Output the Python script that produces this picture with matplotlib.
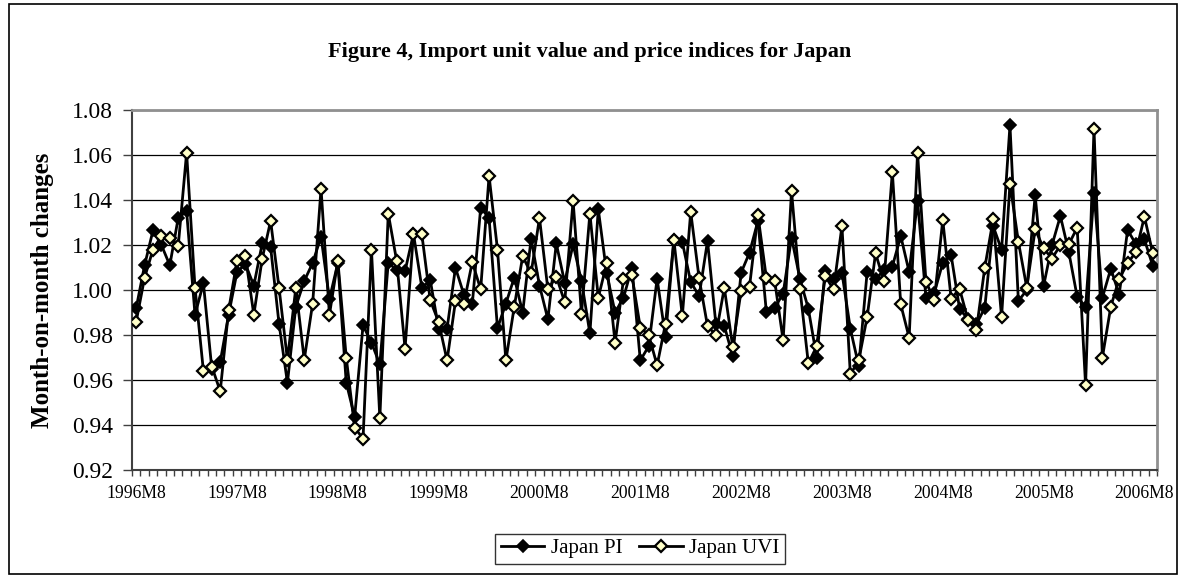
import numpy as np
import matplotlib
matplotlib.use("Agg")
import matplotlib.pyplot as plt
from matplotlib.patches import Rectangle
from matplotlib.ticker import FixedLocator, FormatStrFormatter

plt.rcParams['font.family'] = ['Liberation Serif', 'DejaVu Serif']

# Month-on-month changes, monthly from 1996M8
japan_pi = [
	0.992, 1.011, 1.0265, 1.020, 1.011, 1.032, 1.035, 0.989, 1.003, 0.965,
	0.968, 0.989, 1.008, 1.0115, 1.002, 1.0207, 1.019, 0.985, 0.9588, 0.9926,
	1.004, 1.012, 1.0237, 0.996, 1.012, 0.9588, 0.9436, 0.9843, 0.9766, 0.967,
	1.012, 1.009, 1.0084, 1.025, 1.001, 1.0044, 0.9828, 0.9828, 1.0099, 0.998,
	0.9936, 1.0366, 1.032, 0.983, 0.994, 1.0055, 0.990, 1.0228, 1.002, 0.987,
	1.0207, 1.0033, 1.0203, 1.004, 0.9807, 1.0359, 1.0074, 0.990, 0.9966, 1.0099,
	0.9687, 0.975, 1.005, 0.979, 1.0222, 1.0213, 1.0036, 0.9973, 1.0218, 0.9847,
	0.984, 0.9707, 1.0077, 1.0166, 1.0307, 0.9904, 0.9921, 0.9984, 1.0233, 1.005,
	0.9917, 0.970, 1.0084, 1.0047, 1.0077, 0.9828, 0.9662, 1.008, 1.0047, 1.0089,
	1.0104, 1.024, 1.008, 1.0396, 0.9966, 0.9988, 1.0121, 1.0154, 0.9917, 0.987,
	0.9847, 0.9921, 1.0284, 1.0178, 1.0732, 0.9951, 1.000, 1.0421, 1.0018, 1.0199,
	1.0329, 1.0169, 0.997, 0.9924, 1.0433, 0.9966, 1.0095, 0.998, 1.0267, 1.0203,
	1.0225, 1.0107,
]
japan_uvi = [
	0.986, 1.0055, 1.018, 1.024, 1.023, 1.0195, 1.061, 1.001, 0.964, 0.966,
	0.955, 0.991, 1.013, 1.015, 0.989, 1.014, 1.0307, 1.001, 0.969, 1.001,
	0.969, 0.994, 1.045, 0.989, 1.013, 0.970, 0.9388, 0.934, 1.018, 0.943,
	1.034, 1.013, 0.974, 1.025, 1.0247, 0.9954, 0.9858, 0.9687, 0.995, 0.994,
	1.0124, 1.0003, 1.0507, 1.018, 0.9687, 0.9926, 1.015, 1.0074, 1.032, 1.0003,
	1.006, 0.9947, 1.0396, 0.9895, 1.034, 0.9966, 1.0119, 0.9766, 1.0047, 1.0065,
	0.9833, 0.980, 0.9665, 0.985, 1.0222, 0.9884, 1.0347, 1.0052, 0.984, 0.980,
	1.001, 0.9747, 0.9996, 1.0015, 1.0333, 1.0055, 1.004, 0.9776, 1.044, 1.0006,
	0.9674, 0.975, 1.0062, 1.0003, 1.0284, 0.9625, 0.9687, 0.988, 1.0163, 1.004,
	1.0524, 0.9936, 0.9788, 1.061, 1.0036, 0.9956, 1.0311, 0.9961, 1.0006, 0.9867,
	0.9822, 1.0099, 1.0314, 0.988, 1.0473, 1.0215, 1.001, 1.027, 1.0185, 1.014,
	1.0199, 1.0203, 1.0277, 0.9576, 1.0717, 0.970, 0.9926, 1.005, 1.0119, 1.0169,
	1.0326, 1.0163,
]
tick_labels = ["1996M8", "1997M8", "1998M8", "1999M8", "2000M8", "2001M8",
			   "2002M8", "2003M8", "2004M8", "2005M8", "2006M8"]
y_ticks = [0.92, 0.94, 0.96, 0.98, 1.00, 1.02, 1.04, 1.06, 1.08]

# monthly category names
periods = []
year, month = 1996, 8
for _ in range(len(japan_pi)):
	periods.append(f"{year}M{month}")
	month += 1
	if month > 12:
		month, year = 1, year + 1
x = np.arange(len(periods))

fig = plt.figure(figsize=(11.8, 5.75), dpi=100)
ax = fig.add_axes([132/1180, 1 - 470/575, 1025/1180, 360/575])

ax.plot(x, japan_pi, color='black', lw=2.0, marker='D', ms=6.5,
		mfc='black', mec='black', mew=1.2, label='Japan PI', zorder=3)
ax.plot(x, japan_uvi, color='black', lw=2.0, marker='D', ms=6.5,
		mfc='#ffffc8', mec='black', mew=1.6, label='Japan UVI', zorder=4)

ax.set_xlim(-0.5, len(periods) - 0.5)
ax.set_ylim(y_ticks[0], y_ticks[-1])
ax.yaxis.set_major_locator(FixedLocator(y_ticks))
ax.yaxis.set_major_formatter(FormatStrFormatter('%.2f'))
ax.grid(axis='y', color='black', lw=0.9)
ax.set_axisbelow(True)

# labels on category centres, tick marks between categories
ax.set_xticks([periods.index(t) for t in tick_labels])
ax.set_xticklabels(tick_labels)
ax.xaxis.set_minor_locator(FixedLocator(np.arange(len(periods) + 1) - 0.5))
ax.tick_params(axis='x', which='major', length=0, pad=11, labelsize=12.7)
ax.tick_params(axis='x', which='minor', length=4, width=1, direction='out', color='#404040')
ax.tick_params(axis='y', length=6.5, width=1, pad=7, labelsize=16.9, color='#404040')

for side in ['left', 'bottom']:
	ax.spines[side].set_color('#404040')
	ax.spines[side].set_linewidth(1.5)
for side in ['top', 'right']:
	ax.spines[side].set_color('#909090')
	ax.spines[side].set_linewidth(2)

ax.set_ylabel('Month-on-month changes', fontsize=18, fontweight='bold')
ax.yaxis.set_label_coords((54 - 132)/1025, 0.5)

fig.text(590/1180, 1 - 52/575, 'Figure 4, Import unit value and price indices for Japan',
		 ha='center', va='center', fontsize=16, fontweight='bold')

leg = ax.legend(loc='center', bbox_to_anchor=(640/1180, 1 - 548.5/575),
				bbox_transform=fig.transFigure, ncol=2, fontsize=15,
				frameon=True, fancybox=False, edgecolor='black', borderpad=0.25,
				handlelength=2.1, handletextpad=0.3, columnspacing=0.8)
leg.get_frame().set_linewidth(1)

fig.patches.append(Rectangle((9/1180, 1/575), 1168/1180, 570/575, transform=fig.transFigure,
							 fill=False, edgecolor='black', lw=1.2))

fig.savefig('out.png', dpi=100)
